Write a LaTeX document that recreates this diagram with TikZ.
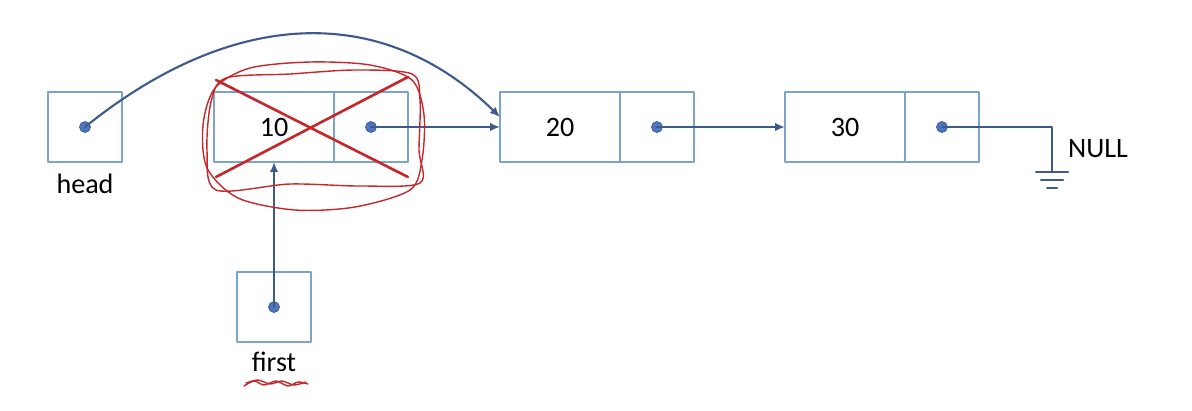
\documentclass[tikz,border=0pt]{standalone}
\usepackage{fontspec}
\setmainfont{Carlito}
\usetikzlibrary{arrows.meta,positioning}
\definecolor{boxblue}{RGB}{125,163,202}
\definecolor{linkblue}{RGB}{62,90,140}
\definecolor{dotblue}{RGB}{78,118,192}
\definecolor{scribred}{RGB}{196,40,42}
\begin{document}
\begin{tikzpicture}[x=0.02cm, y=-0.02cm, line cap=round, line join=round,
  font=\fontsize{16}{19}\selectfont,
  cell/.style={draw=boxblue, line width=1.5pt, minimum height=1.4cm, inner sep=0pt, outer sep=0pt},
  datacell/.style={cell, minimum width=2.4cm},
  ptrcell/.style={cell, minimum width=1.48cm},
  varcell/.style={cell, minimum width=1.48cm},
  dot/.style={circle, fill=dotblue, draw=linkblue, line width=0.4pt, minimum size=0.22cm, inner sep=0pt},
  link/.style={draw=linkblue, line width=1.2pt, -{Latex[length=0.2cm, width=0.17cm]}},
  wire/.style={draw=linkblue, line width=1.2pt},
  scribble/.style={draw=scribred, line width=0.8pt},
  cross/.style={draw=scribred, line width=1.5pt}]
	\useasboundingbox (0,0) rectangle (1192,410);
	
	% pointer variables
	\node[varcell] (hbox) at (85,127) {};
	\node[varcell] (fbox) at (274,307) {};
	\node (hlbl) at (85,184) {head};
	\node (flbl) at (274,362) {first};
	
	% list nodes
	\node[datacell] (n10) at (274,127) {10};
	\node[ptrcell, right=0pt of n10] (p10) {};
	\node[datacell] (n20) at (560,127) {20};
	\node[ptrcell, right=0pt of n20] (p20) {};
	\node[datacell] (n30) at (845,127) {30};
	\node[ptrcell, right=0pt of n30] (p30) {};
	
	\foreach \u in {hbox,fbox,p10,p20,p30}
		\node[dot] (d\u) at (\u.center) {};
	
	% links
	\draw[link] (dhbox.center) .. controls (230,10) and (380,0) .. ([yshift=0.2cm]n20.west);
	\draw[link] (dp10.center) -- (n20.west);
	\draw[link] (dp20.center) -- (n30.west);
	\draw[link] (dfbox.center) -- (n10.south);
	
	% NULL
	\coordinate (gnd) at (1052,172);
	\draw[wire] (dp30.center) -| (gnd);
	\draw[wire] (1036,172) -- (1068,172);
	\draw[wire] (1041,180) -- (1063,180);
	\draw[wire] (1047,188) -- (1057,188);
	\node (null) at (1098,149) {NULL};
	
	% crossed out node
	\draw[cross] (216,80) -- (408,177);
	\draw[cross] (216,177) -- (408,77);
	\draw[scribble] plot[smooth cycle] coordinates {(215,88) (250,68) (310,62) (370,65) (412,80) (424,115) (422,160) (410,190) (355,207) (295,210) (238,198) (207,168) (203,125)};
	\draw[scribble] plot[smooth cycle] coordinates {(226,78) (290,74) (355,70) (412,74) (420,100) (419,150) (420,183) (360,186) (290,184) (216,190) (207,150) (211,102)};
	\draw[scribble] plot[smooth] coordinates {(244,386) (254,381) (264,385) (276,381) (288,386) (298,382) (308,384)};
	\draw[scribble] plot[smooth] coordinates {(246,383) (258,380) (270,384) (282,381) (294,385) (306,382)};
\end{tikzpicture}
\end{document}
